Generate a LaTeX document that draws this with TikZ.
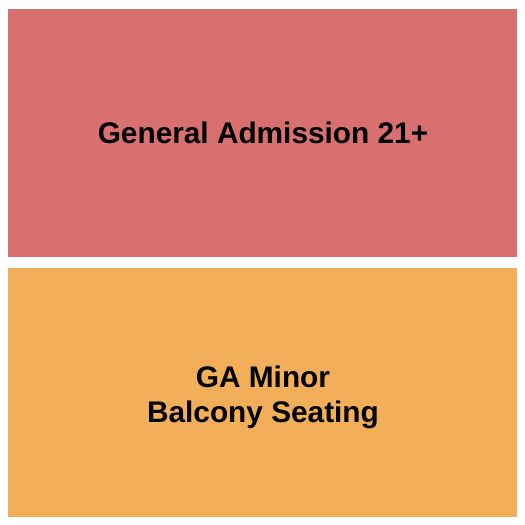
\documentclass[tikz,border=0pt]{standalone}
\usepackage{fontspec}
\setmainfont{Liberation Sans}
\definecolor{gared}{HTML}{D7706F}
\definecolor{gaorange}{HTML}{F3AE5A}
\tikzset{
  section/.style={draw=none},
  seclabel/.style={font=\fontsize{29.8}{35}\selectfont\bfseries, align=center, text=black}
}
\begin{document}
\begin{tikzpicture}[x=1pt,y=-1pt]
        \useasboundingbox (0,0) rectangle (525,525);
        \fill[white] (0,0) rectangle (525,525);

        % General admission
        \fill[gared, section] (8,9) rectangle (517,257);
        \node[seclabel] (ga21) at (263,133) {General Admission 21+};

        % Minor / balcony
        \fill[gaorange, section] (8,268) rectangle (517,517);
        \node[seclabel] (minor) at (263,397) {GA Minor\\Balcony Seating};
\end{tikzpicture}
\end{document}
